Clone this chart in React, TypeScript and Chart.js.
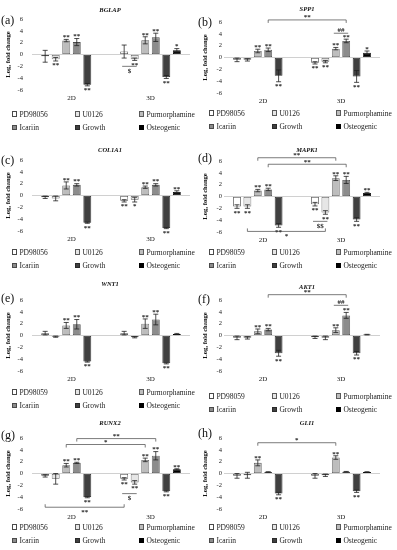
import React, { useEffect, useRef } from 'react';
import { Chart, registerables } from 'chart.js';
Chart.register(...registerables);

const categories = ['2D', '3D'];
const yTickValues = [-6, -4, -2, 0, 2, 4, 6];
const yTitle = 'Log\u2082 fold change';
const seriesNames56 = ['PD98056', 'U0126', 'Purmorphamine', 'Icariin', 'Growth', 'Osteogenic'];
const seriesNames59 = ['PD98059', 'U0126', 'Purmorphamine', 'Icariin', 'Growth', 'Osteogenic'];
const seriesFill = ['#ffffff', '#e6e6e6', '#bdbdbd', '#8c8c8c', '#404040', '#000000'];
const seriesBorder = ['#4a4a4a', '#5a5a5a', '#5a5a5a', '#4a4a4a', '#2a2a2a', '#000000'];

// (a) BGLAP
const bglap2D = [-0.3, -0.8, 2.35, 2.1, -5.1, 0];
const bglap3D = [0.5, -0.8, 2.4, 2.9, -3.8, 0.7];
const bglapErr2D = [1.0, 0.3, 0.2, 0.6, 0.2, 0];
const bglapErr3D = [1.1, 0.2, 0.6, 0.7, 0.25, 0.3];
const bglapSig2D = ['', '**', '**', '**', '**', ''];
const bglapSig3D = ['', '**', '**', '**', '**', '*'];
const bglapMarks = [{ g1: 1, s1: 0, g2: 1, s2: 1, y: -2.0, text: '$', kind: 'under' }];

// (b) SPP1
const spp12D = [-0.4, -0.4, 1.1, 1.3, -3.1, 0];
const spp13D = [-0.9, -0.7, 1.5, 2.8, -3.2, 0.8];
const spp1Err2D = [0.3, 0.2, 0.3, 0.3, 1.0, 0];
const spp1Err3D = [0.2, 0.2, 0.2, 0.3, 1.0, 0.3];
const spp1Sig2D = ['', '', '**', '**', '**', ''];
const spp1Sig3D = ['**', '**', '**', '**', '**', '*'];
const spp1Marks = [
  { g1: 0, s1: 3, g2: 1, s2: 3, y: 6.35, text: '**', kind: 'top' },
  { g1: 1, s1: 2, g2: 1, s2: 3, y: 4.1, text: '##', kind: 'over' },
];

// (c) COL1A1
const col1a12D = [-0.3, -0.5, 1.7, 1.8, -4.6, 0];
const col1a13D = [-0.9, -0.7, 1.4, 1.8, -5.5, 0.6];
const col1a1Err2D = [0.2, 0.4, 0.6, 0.2, 0.1, 0];
const col1a1Err3D = [0.2, 0.4, 0.2, 0.2, 0.1, 0.2];
const col1a1Sig2D = ['', '', '**', '**', '**', ''];
const col1a1Sig3D = ['**', '*', '**', '**', '**', '**'];
const col1a1Marks = [];

// (d) MAPK1
const mapk12D = [-1.7, -1.7, 1.0, 1.2, -4.9, 0];
const mapk13D = [-1.3, -2.7, 3.1, 2.8, -3.9, 0.6];
const mapk1Err2D = [0.3, 0.3, 0.2, 0.2, 0.3, 0];
const mapk1Err3D = [0.3, 0.3, 0.4, 0.6, 0.3, 0.1];
const mapk1Sig2D = ['**', '**', '**', '**', '**', ''];
const mapk1Sig3D = ['**', '**', '**', '**', '**', '**'];
const mapk1Marks = [
  { g1: 0, s1: 2, g2: 1, s2: 2, y: 6.55, text: '**', kind: 'top' },
  { g1: 0, s1: 3, g2: 1, s2: 3, y: 5.45, text: '**', kind: 'top' },
  { g1: 0, s1: 1, g2: 1, s2: 1, y: -5.9, text: '*', kind: 'bottom' },
  { g1: 1, s1: 0, g2: 1, s2: 1, y: -4.2, text: '$$', kind: 'under' },
];

// (e) WNT1
const wnt12D = [0.4, -0.2, 1.7, 1.9, -4.4, 0];
const wnt13D = [0.4, -0.3, 2.0, 2.7, -4.7, 0.25];
const wnt1Err2D = [0.3, 0.1, 0.5, 0.8, 0.1, 0];
const wnt1Err3D = [0.3, 0.1, 0.8, 0.9, 0.1, 0.1];
const wnt1Sig2D = ['', '', '**', '**', '**', ''];
const wnt1Sig3D = ['', '', '**', '**', '**', ''];
const wnt1Marks = [];

// (f) AKT1
const akt12D = [-0.4, -0.4, 0.7, 1.0, -3.0, 0];
const akt13D = [-0.3, -0.4, 0.9, 3.4, -3.0, 0.15];
const akt1Err2D = [0.3, 0.2, 0.4, 0.2, 0.5, 0];
const akt1Err3D = [0.2, 0.3, 0.4, 0.5, 0.3, 0.05];
const akt1Sig2D = ['', '', '**', '**', '**', ''];
const akt1Sig3D = ['', '', '**', '**', '**', ''];
const akt1Marks = [
  { g1: 0, s1: 3, g2: 1, s2: 3, y: 6.9, text: '**', kind: 'top' },
  { g1: 1, s1: 2, g2: 1, s2: 3, y: 5.1, text: '##', kind: 'over' },
];

// (g) RUNX2
const runx22D = [-0.4, -0.9, 1.4, 1.8, -4.0, 0];
const runx23D = [-0.9, -1.5, 2.3, 3.0, -3.0, 0.7];
const runx2Err2D = [0.2, 0.9, 0.3, 0.1, 0.1, 0];
const runx2Err3D = [0.2, 0.3, 0.3, 0.7, 0.1, 0.1];
const runx2Sig2D = ['', '', '**', '**', '**', ''];
const runx2Sig3D = ['**', '**', '**', '**', '**', '**'];
const runx2Marks = [
  { g1: 0, s1: 3, g2: 1, s2: 3, y: 5.9, text: '**', kind: 'top' },
  { g1: 0, s1: 2, g2: 1, s2: 2, y: 4.9, text: '*', kind: 'top' },
  { g1: 0, s1: 0, g2: 1, s2: 0, y: -5.7, text: '**', kind: 'bottom' },
  { g1: 1, s1: 0, g2: 1, s2: 1, y: -3.4, text: '$', kind: 'under' },
];

// (h) GLI1
const gli12D = [-0.4, -0.3, 1.8, 0.25, -3.4, 0];
const gli13D = [-0.4, -0.3, 2.7, 0.3, -3.0, 0.25];
const gli1Err2D = [0.4, 0.5, 0.5, 0.05, 0.2, 0];
const gli1Err3D = [0.4, 0.2, 0.3, 0.05, 0.2, 0.05];
const gli1Sig2D = ['', '', '**', '', '**', ''];
const gli1Sig3D = ['', '', '**', '', '**', ''];
const gli1Marks = [{ g1: 0, s1: 2, g2: 1, s2: 2, y: 5.2, text: '*', kind: 'top' }];

const SERIF = '"Liberation Serif", "DejaVu Serif", serif';

const panels = [
  { letter: 'a', gene: 'BGLAP', names: seriesNames56, v: [bglap2D, bglap3D], e: [bglapErr2D, bglapErr3D], s: [bglapSig2D, bglapSig3D], marks: bglapMarks, col: 0, row: 0, areaTop: 19, titleY: 10, letterY: 20, legendY: 114 },
  { letter: 'b', gene: 'SPP1', names: seriesNames56, v: [spp12D, spp13D], e: [spp1Err2D, spp1Err3D], s: [spp1Sig2D, spp1Sig3D], marks: spp1Marks, col: 1, row: 0, areaTop: 22, titleY: 9, letterY: 22, legendY: 113 },
  { letter: 'c', gene: 'COL1A1', names: seriesNames56, v: [col1a12D, col1a13D], e: [col1a1Err2D, col1a1Err3D], s: [col1a1Sig2D, col1a1Sig3D], marks: col1a1Marks, col: 0, row: 1, areaTop: 20, titleY: 10, letterY: 20, legendY: 112 },
  { letter: 'd', gene: 'MAPK1', names: seriesNames59, v: [mapk12D, mapk13D], e: [mapk1Err2D, mapk1Err3D], s: [mapk1Sig2D, mapk1Sig3D], marks: mapk1Marks, col: 1, row: 1, areaTop: 21, titleY: 10, letterY: 18, legendY: 112 },
  { letter: 'e', gene: 'WNT1', names: seriesNames59, v: [wnt12D, wnt13D], e: [wnt1Err2D, wnt1Err3D], s: [wnt1Sig2D, wnt1Sig3D], marks: wnt1Marks, col: 0, row: 2, areaTop: 21, titleY: 5, letterY: 19, legendY: 113 },
  { letter: 'f', gene: 'AKT1', names: seriesNames59, v: [akt12D, akt13D], e: [akt1Err2D, akt1Err3D], s: [akt1Sig2D, akt1Sig3D], marks: akt1Marks, col: 1, row: 2, areaTop: 21, titleY: 8, letterY: 20, legendY: 117 },
  { letter: 'g', gene: 'RUNX2', names: seriesNames56, v: [runx22D, runx23D], e: [runx2Err2D, runx2Err3D], s: [runx2Sig2D, runx2Sig3D], marks: runx2Marks, col: 0, row: 3, areaTop: 20, titleY: 5, letterY: 17, legendY: 109 },
  { letter: 'h', gene: 'GLI1', names: seriesNames59, v: [gli12D, gli13D], e: [gli1Err2D, gli1Err3D], s: [gli1Sig2D, gli1Sig3D], marks: gli1Marks, col: 1, row: 3, areaTop: 20, titleY: 5, letterY: 15, legendY: 109 },
];

const colLeft = [0, 197];
const colWidth = [197, 200];
const rowTop = [0, 140, 279, 418];
const axisWidth = [32, 27];
const rightPad = [7, 17];
const tickPad = [9, 2];
const AREA_H = 71;
const XAXIS_H = 19;

function makeAnnotations(p: any) {
  return {
    id: 'annot_' + p.letter,
    afterDatasetsDraw(chart: any) {
      const ctx = chart.ctx;
      const ys = chart.scales.y;
      ctx.save();
      ctx.strokeStyle = '#222';
      ctx.fillStyle = '#222';
      ctx.lineWidth = 0.8;
      ctx.textAlign = 'center';
      ctx.textBaseline = 'middle';
      ctx.font = 'bold 7px ' + SERIF;
      for (let si = 0; si < 6; si++) {
        const meta = chart.getDatasetMeta(si);
        for (let g = 0; g < 2; g++) {
          const el = meta.data[g];
          if (!el) continue;
          const x = el.x;
          const v = p.v[g][si];
          const e = p.e[g][si];
          const yHi = ys.getPixelForValue(v + e);
          const yLo = ys.getPixelForValue(v - e);
          if (e > 0) {
            ctx.beginPath();
            ctx.moveTo(x, yHi); ctx.lineTo(x, yLo);
            ctx.moveTo(x - 2.5, yHi); ctx.lineTo(x + 2.5, yHi);
            ctx.moveTo(x - 2.5, yLo); ctx.lineTo(x + 2.5, yLo);
            ctx.stroke();
          }
          const t = p.s[g][si];
          if (t) {
            if (v >= 0) ctx.fillText(t, x, yHi - 2);
            else ctx.fillText(t, x, yLo + 4.5);
          }
        }
      }
      ctx.strokeStyle = '#444';
      ctx.lineWidth = 0.7;
      for (const m of p.marks) {
        const x1 = chart.getDatasetMeta(m.s1).data[m.g1].x;
        const x2 = chart.getDatasetMeta(m.s2).data[m.g2].x;
        const y = ys.getPixelForValue(m.y);
        const cx = (x1 + x2) / 2;
        ctx.beginPath();
        if (m.kind === 'top') {
          ctx.moveTo(x1, y + 3); ctx.lineTo(x1, y); ctx.lineTo(x2, y); ctx.lineTo(x2, y + 3);
          ctx.stroke();
          ctx.fillText(m.text, cx, y - 2.5);
        } else if (m.kind === 'bottom') {
          ctx.moveTo(x1, y - 3); ctx.lineTo(x1, y); ctx.lineTo(x2, y); ctx.lineTo(x2, y - 3);
          ctx.stroke();
          ctx.fillText(m.text, cx, y + 5);
        } else if (m.kind === 'over') {
          ctx.moveTo(x1 - 2, y); ctx.lineTo(x2 + 2, y);
          ctx.stroke();
          ctx.fillText(m.text, cx, y - 3.5);
        } else {
          ctx.moveTo(x1 - 2, y); ctx.lineTo(x2 + 2, y);
          ctx.stroke();
          ctx.fillText(m.text, cx, y + 5);
        }
      }
      ctx.restore();
    },
  };
}

function Panel({ p }: { p: any }) {
  const ref = useRef<HTMLCanvasElement>(null);
  const width = colWidth[p.col];
  const height = p.areaTop + AREA_H + XAXIS_H;
  useEffect(() => {
    if (!ref.current) return;
    const datasets = p.names.map((name: string, si: number) => ({
      label: name,
      data: [p.v[0][si], p.v[1][si]],
      backgroundColor: seriesFill[si],
      borderColor: seriesBorder[si],
      borderWidth: 0.8,
      borderSkipped: false,
      categoryPercentage: 0.8,
      barPercentage: 0.75,
    }));
    const chart = new Chart(ref.current, {
      type: 'bar',
      data: { labels: categories, datasets },
      options: {
        responsive: false,
        animation: false,
        devicePixelRatio: 1,
        layout: { padding: { top: p.areaTop, right: rightPad[p.col], left: 0, bottom: 0 } },
        plugins: { legend: { display: false }, tooltip: { enabled: false }, title: { display: false } },
        scales: {
          x: {
            grid: { display: false, drawTicks: false, tickLength: 0 },
            border: { display: false },
            ticks: { color: '#222', font: { family: SERIF, size: 7 }, padding: 4, maxRotation: 0 },
            afterFit: (s: any) => { s.height = XAXIS_H; },
          },
          y: {
            min: -6,
            max: 6,
            afterBuildTicks: (s: any) => { s.ticks = yTickValues.map((value) => ({ value })); },
            ticks: { color: '#222', font: { family: SERIF, size: 6.5 }, padding: tickPad[p.col] },
            grid: {
              drawTicks: false,
              lineWidth: 1,
              color: (c: any) => (c.tick && c.tick.value === 0 ? '#d0d0d0' : 'rgba(0,0,0,0)'),
            },
            border: { display: false },
            title: { display: true, text: yTitle, color: '#111', font: { family: SERIF, size: 6.5, weight: 'bold' }, padding: { top: 4.5, bottom: 0 } },
            afterFit: (s: any) => { s.width = axisWidth[p.col]; },
          },
        },
      },
      plugins: [makeAnnotations(p)],
    } as any);
    return () => chart.destroy();
  }, []);

  const legendCols = [12, 75, 139];
  return (
    <div style={{ position: 'absolute', left: colLeft[p.col], top: rowTop[p.row], width, height: 140 }}>
      <canvas ref={ref} width={width} height={height} style={{ position: 'absolute', left: 0, top: 0, width, height }} />
      <div style={{ position: 'absolute', left: 60, width: 100, top: p.titleY - 4, height: 8, lineHeight: '8px', textAlign: 'center', fontFamily: SERIF, fontStyle: 'italic', fontWeight: 'bold', fontSize: 6.5, color: '#111' }}>{p.gene}</div>
      <div style={{ position: 'absolute', left: 1, top: p.letterY - 7, height: 14, lineHeight: '14px', fontFamily: SERIF, fontSize: 12, color: '#111' }}>({p.letter})</div>
      {p.names.map((name: string, si: number) => {
        const r = Math.floor(si / 3);
        const c = si % 3;
        return (
          <div key={name} style={{ position: 'absolute', left: legendCols[c], top: p.legendY + r * 13.5 - 4.5, height: 9, lineHeight: '9px', whiteSpace: 'nowrap', fontFamily: SERIF, fontSize: 7.5, color: '#222', display: 'flex', alignItems: 'center' }}>
            <span style={{ display: 'inline-block', width: 3.4, height: 3.4, background: seriesFill[si], border: '0.8px solid ' + seriesBorder[si], marginRight: 2 }} />
            <span>{name}</span>
          </div>
        );
      })}
    </div>
  );
}

export default function App() {
  return (
    <div style={{ position: 'absolute', left: 0, top: 0, width: 397, height: 550, background: '#fff', overflow: 'hidden' }}>
      {panels.map((p) => <Panel key={p.letter} p={p} />)}
    </div>
  );
}
